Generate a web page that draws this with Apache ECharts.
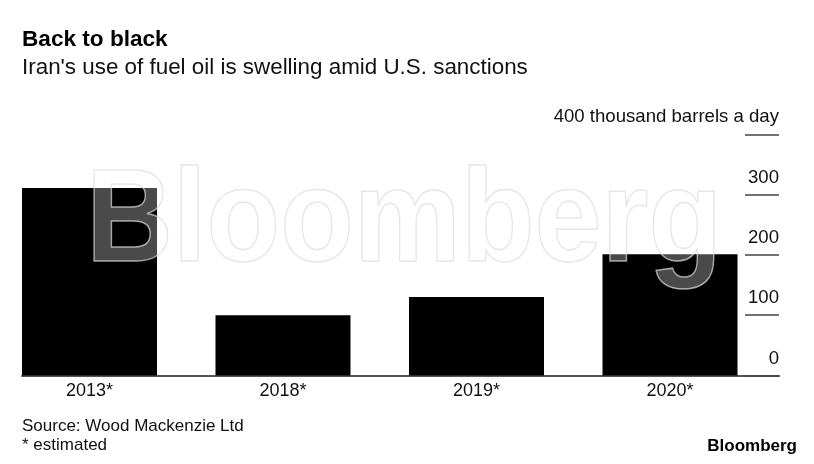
<!DOCTYPE html>
<html>
<head>
<meta charset="utf-8">
<script src="https://cdn.jsdelivr.net/npm/echarts@6/dist/echarts.min.js"></script>
<style>
html,body{margin:0;padding:0;background:#fff;}
#chart{width:814px;height:464px;}
</style>
</head>
<body>
<div id="chart"></div>
<script>
const categories = ['2013*', '2018*', '2019*', '2020*'];
const fuelOilUse = [311, 100, 130, 201];
const yTicks = [0, 100, 200, 300, 400];
const unitLabel = '400 thousand barrels a day';
const titleText = 'Back to black';
const subtitleText = "Iran's use of fuel oil is swelling amid U.S. sanctions";
const sourceText = 'Source: Wood Mackenzie Ltd';
const noteText = '* estimated';

const FONT = '"Liberation Sans", Arial, sans-serif';
const chart = echarts.init(document.getElementById('chart'), null, {renderer: 'canvas'});

const catIndex = categories.map(function (_, i) { return i; });
const barData = fuelOilUse.map(function (v, i) { return [i, v]; });

const option = {
  animation: false,
  backgroundColor: '#fff',
  grid: {left: 22, right: 35, top: 134.3, bottom: 88.5, containLabel: false},
  xAxis: {
    type: 'value',
    min: -0.3488,
    max: 3.5633,
    splitLine: {show: false},
    axisLine: {show: true, onZero: false, lineStyle: {color: '#555', width: 2}},
    axisTick: {show: false},
    axisLabel: {
      customValues: catIndex,
      color: '#111', fontFamily: FONT, fontSize: 18, margin: 7,
      formatter: function (v) { return categories[Math.round(v)]; }
    }
  },
  yAxis: {
    type: 'value',
    position: 'right',
    min: yTicks[0],
    max: yTicks[yTicks.length - 1],
    interval: 100,
    splitLine: {show: false},
    axisLine: {show: false, onZero: false},
    axisTick: {show: true, inside: true, length: 34, lineStyle: {color: '#444', width: 1.5}},
    axisLabel: {
      inside: true,
      margin: 0,
      color: '#111',
      fontFamily: FONT,
      fontSize: 18.6,
      verticalAlign: 'bottom',
      lineHeight: 18,
      padding: [0, 0, 8, 0],
      formatter: function (v) { return v === 400 ? unitLabel : String(v); }
    }
  },
  series: [{
    type: 'bar',
    data: barData,
    barWidth: 135,
    itemStyle: {color: '#000'},
    z: 2
  }],
  graphic: [
    {type: 'text', left: 22, top: 39.5 - 11, z: 10,
      style: {text: titleText, font: 'bold 22.6px ' + FONT, fill: '#000', verticalAlign: 'top'}},
    {type: 'text', left: 22, top: 68 - 11.5, z: 10,
      style: {text: subtitleText, font: '22.4px ' + FONT, fill: '#111', verticalAlign: 'top'}},
    {type: 'text', x: 86, y: 225, z: 20, scaleX: 0.92, silent: true,
      style: {text: 'Bloomberg', font: 'bold 131px ' + FONT, fill: 'rgba(255,255,255,0.29)',
        stroke: 'rgba(215,215,215,0.7)', lineWidth: 1.5, verticalAlign: 'middle'}},
    {type: 'text', left: 22, top: 427 - 9, z: 10,
      style: {text: sourceText, font: '17px ' + FONT, fill: '#111', verticalAlign: 'top'}},
    {type: 'text', left: 22, top: 446 - 9, z: 10,
      style: {text: noteText, font: '17px ' + FONT, fill: '#111', verticalAlign: 'top'}},
    {type: 'text', right: 17, top: 447 - 9, z: 10,
      style: {text: 'Bloomberg', font: 'bold 17px ' + FONT, fill: '#000', verticalAlign: 'top'}}
  ]
};
chart.setOption(option);
</script>
</body>
</html>
